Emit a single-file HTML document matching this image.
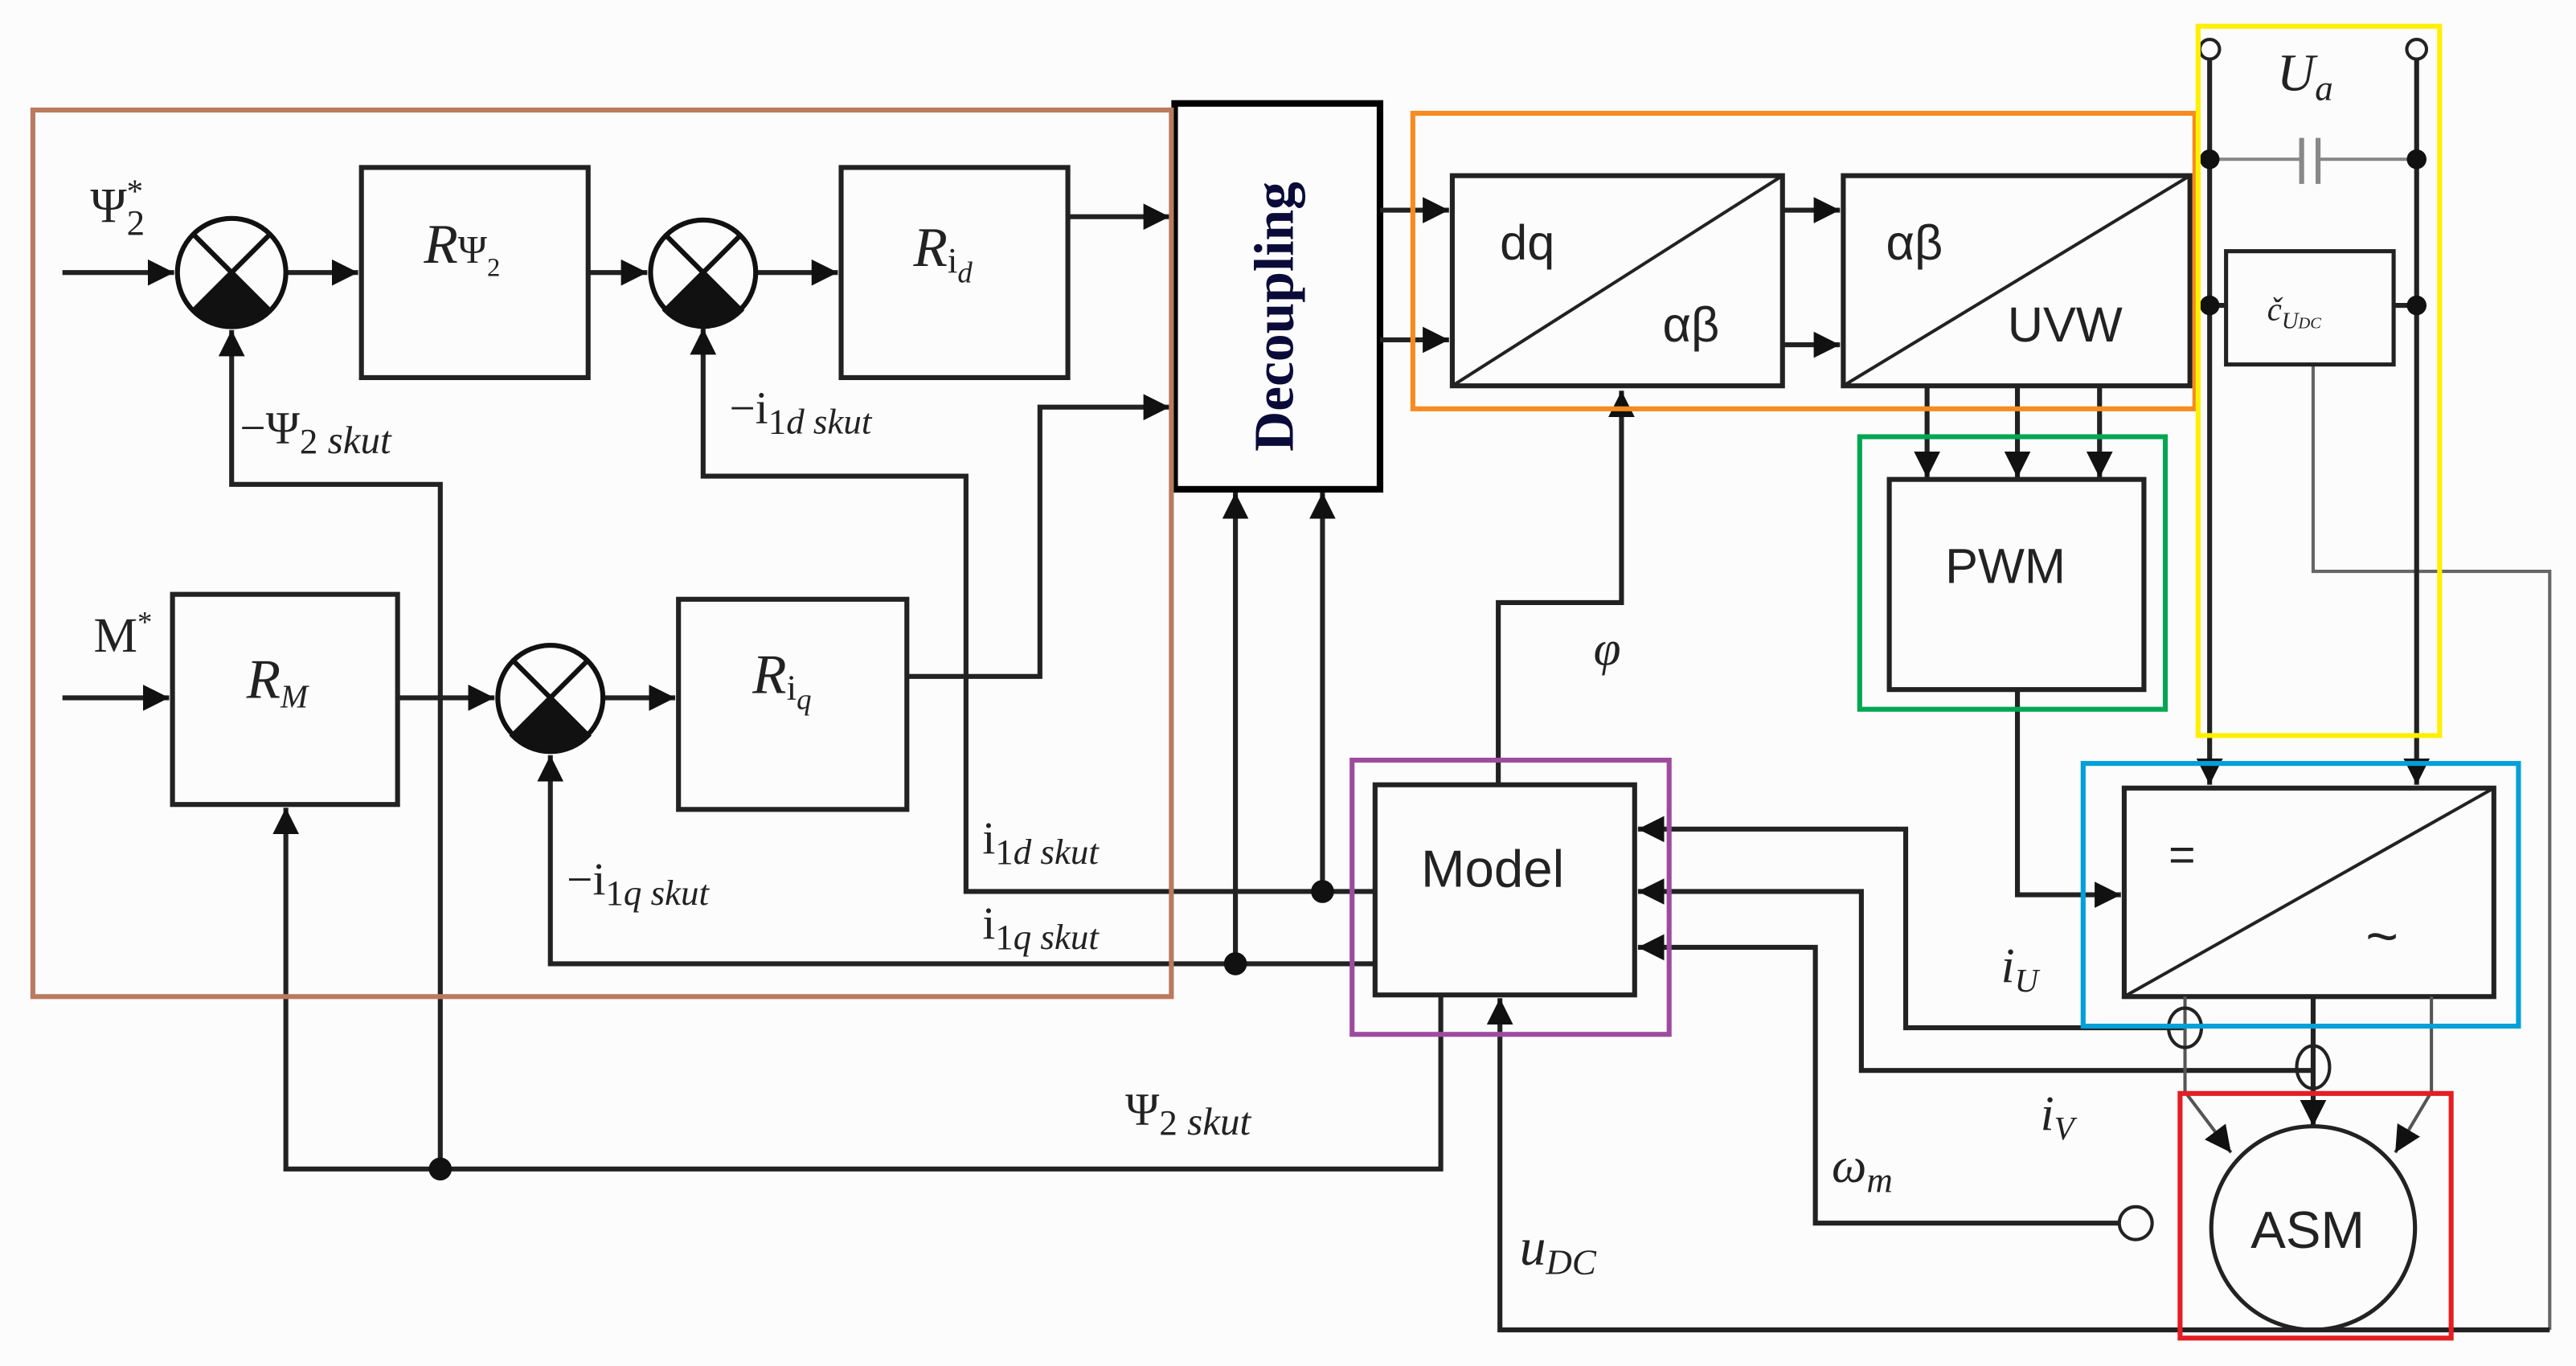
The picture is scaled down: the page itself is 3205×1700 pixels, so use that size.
<!DOCTYPE html>
<html><head><meta charset="utf-8"><style>
html,body{margin:0;padding:0;background:#fff;}
svg{display:block;}
.t{font-family:"Liberation Serif",serif;font-style:italic;fill:#222;}
.s{font-family:"Liberation Sans",sans-serif;fill:#222;}
</style></head><body>
<svg width="3205" height="1700" viewBox="0 0 1568 832" preserveAspectRatio="none" xmlns="http://www.w3.org/2000/svg">
<defs>
<marker id="b" viewBox="0 0 10 10" refX="10" refY="5" markerWidth="16" markerHeight="16" orient="auto" markerUnits="userSpaceOnUse"><path d="M0,0 L10,5 L0,10 Z" fill="#111"/></marker>
</defs>
<rect x="0" y="0" width="1568" height="832" fill="#fcfcfc"/>
<g fill="none" stroke="#222" stroke-width="3">
<line x1="38" y1="166" x2="106" y2="166" marker-end="url(#b)"/>
<line x1="174" y1="166" x2="218" y2="166" marker-end="url(#b)"/>
<rect x="220" y="102" width="138" height="128"/>
<line x1="358" y1="166" x2="394" y2="166" marker-end="url(#b)"/>
<line x1="460" y1="166" x2="510" y2="166" marker-end="url(#b)"/>
<rect x="512" y="102" width="138" height="128"/>
<line x1="650" y1="132" x2="712" y2="132" marker-end="url(#b)"/>
<polyline points="268,712 268,295 141,295 141,201" marker-end="url(#b)"/>
<polyline points="836,543 588,543 588,290 428,290 428,200" marker-end="url(#b)"/>
<line x1="38" y1="425" x2="103" y2="425" marker-end="url(#b)"/>
<rect x="105" y="362" width="137" height="128"/>
<line x1="242" y1="425" x2="301" y2="425" marker-end="url(#b)"/>
<line x1="368" y1="425" x2="411" y2="425" marker-end="url(#b)"/>
<rect x="413" y="365" width="139" height="128"/>
<polyline points="552,412 633,412 633,248 712,248" marker-end="url(#b)"/>
<polyline points="836,587 335,587 335,460" marker-end="url(#b)"/>
<polyline points="877,607 877,712 174,712 174,492" marker-end="url(#b)"/>
<line x1="752" y1="587" x2="752" y2="300" marker-end="url(#b)"/>
<line x1="805" y1="543" x2="805" y2="300" marker-end="url(#b)"/>
<rect x="715" y="63" width="125" height="235" stroke="#000" stroke-width="4"/>
<line x1="840" y1="128" x2="882" y2="128" marker-end="url(#b)"/>
<line x1="840" y1="207" x2="882" y2="207" marker-end="url(#b)"/>
<rect x="884" y="107" width="201" height="128"/>
<line x1="884" y1="235" x2="1085" y2="107" stroke-width="2"/>
<line x1="1085" y1="128" x2="1120" y2="128" marker-end="url(#b)"/>
<line x1="1085" y1="210" x2="1120" y2="210" marker-end="url(#b)"/>
<rect x="1122" y="107" width="211" height="128"/>
<line x1="1122" y1="235" x2="1333" y2="107" stroke-width="2"/>
<line x1="1173" y1="235" x2="1173" y2="291" marker-end="url(#b)"/>
<line x1="1228" y1="235" x2="1228" y2="291" marker-end="url(#b)"/>
<line x1="1278" y1="235" x2="1278" y2="291" marker-end="url(#b)"/>
<rect x="1150" y="292" width="155" height="128"/>
<polyline points="1228,420 1228,545 1291,545" marker-end="url(#b)"/>
<polyline points="912,478 912,367 987,367 987,238" marker-end="url(#b)"/>
<rect x="837" y="478" width="158" height="128"/>
<polyline points="1408,222 1408,348 1552,348 1552,810" stroke-width="2" stroke="#666"/>
<polyline points="1552,810 913,810 913,608" marker-end="url(#b)"/>
<polyline points="1330,626 1160,626 1160,505 997,505" marker-end="url(#b)"/>
<polyline points="1408,652 1133,652 1133,543 997,543" marker-end="url(#b)"/>
<polyline points="1290,745 1105,745 1105,577 997,577" marker-end="url(#b)"/>
<line x1="1345" y1="36" x2="1345" y2="478" marker-end="url(#b)"/>
<line x1="1471" y1="36" x2="1471" y2="478" marker-end="url(#b)"/>
<rect x="1355" y="153" width="102" height="69" stroke-width="2.5"/>
<line x1="1345" y1="186" x2="1355" y2="186"/>
<line x1="1457" y1="186" x2="1471" y2="186"/>
<g stroke="#888" stroke-width="2"><line x1="1345" y1="97" x2="1401" y2="97"/><line x1="1411" y1="97" x2="1471" y2="97"/>
<line x1="1401" y1="84" x2="1401" y2="112" stroke-width="3"/><line x1="1411" y1="84" x2="1411" y2="112" stroke-width="3"/></g>
<rect x="1293" y="480" width="225" height="127"/>
<line x1="1293" y1="607" x2="1518" y2="480" stroke-width="2"/>
<polyline points="1330,607 1330,665 1358,702" stroke-width="2" stroke="#555" marker-end="url(#b)"/>
<line x1="1408" y1="607" x2="1408" y2="686" marker-end="url(#b)"/>
<polyline points="1480,607 1480,665 1458,702" stroke-width="2" stroke="#555" marker-end="url(#b)"/>
<ellipse cx="1330" cy="626" rx="10" ry="12" stroke-width="2"/>
<ellipse cx="1408" cy="650" rx="10" ry="13" stroke-width="2"/>
<circle cx="1300" cy="745" r="10" stroke-width="2"/>
<circle cx="1408" cy="748" r="62" stroke-width="2.5"/>
<circle cx="1345" cy="30" r="6" stroke-width="2"/>
<circle cx="1471" cy="30" r="6" stroke-width="2"/>
</g>
<g stroke="#111" stroke-width="3" fill="none">
<g transform="translate(141,166)"><circle r="33"/><line x1="-23" y1="-23" x2="23" y2="23"/><line x1="23" y1="-23" x2="-23" y2="23"/><path d="M0,0 L-23,23 A33,33 0 0 0 23,23 Z" fill="#111"/></g>
<g transform="translate(428,166)"><circle r="32"/><line x1="-23" y1="-23" x2="23" y2="23"/><line x1="23" y1="-23" x2="-23" y2="23"/><path d="M0,0 L-23,23 A32,32 0 0 0 23,23 Z" fill="#111"/></g>
<g transform="translate(335,425)"><circle r="32"/><line x1="-23" y1="-23" x2="23" y2="23"/><line x1="23" y1="-23" x2="-23" y2="23"/><path d="M0,0 L-23,23 A32,32 0 0 0 23,23 Z" fill="#111"/></g>
</g>
<g fill="#111"><circle cx="268" cy="712" r="7"/><circle cx="752" cy="587" r="7"/><circle cx="805" cy="543" r="7"/>
<circle cx="1345" cy="97" r="6"/><circle cx="1471" cy="97" r="6"/><circle cx="1345" cy="186" r="6"/><circle cx="1471" cy="186" r="6"/></g>
<g fill="none" stroke-width="3">
<rect x="20" y="67" width="693" height="540" stroke="#b97a5e"/>
<rect x="860" y="69" width="476" height="180" stroke="#f68b1f"/>
<rect x="1132" y="266" width="186" height="166" stroke="#00a651"/>
<rect x="1338" y="16" width="147" height="432" stroke="#ffef00"/>
<rect x="823" y="463" width="193" height="167" stroke="#9e4b9e"/>
<rect x="1268" y="465" width="265" height="160" stroke="#00a0d8"/>
<rect x="1327" y="666" width="165" height="149" stroke="#e31e24"/>
</g>
<text x="55" y="135" class="t" style="font-style:normal" font-size="30">Ψ<tspan font-size="20" dy="-12">*</tspan><tspan font-size="22" dx="-10" dy="20">2</tspan></text>
<text x="258" y="160" class="t" font-size="34">R<tspan font-size="24" style="font-style:normal">Ψ</tspan><tspan font-size="16" dy="8" style="font-style:normal">2</tspan></text>
<text x="556" y="162" class="t" font-size="34">R<tspan font-size="22" style="font-style:normal" dy="4">i</tspan><tspan font-size="18" dy="6">d</tspan></text>
<text x="150" y="425" class="t" font-size="34">R<tspan font-size="20" dy="6">M</tspan></text>
<text x="458" y="422" class="t" font-size="34">R<tspan font-size="22" style="font-style:normal" dy="4">i</tspan><tspan font-size="18" dy="6">q</tspan></text>
<text x="57" y="397" class="t" style="font-style:normal" font-size="30">M<tspan font-size="18" dy="-12">*</tspan></text>
<text x="146" y="270" class="t" font-size="28"><tspan style="font-style:normal">−Ψ</tspan><tspan font-size="22" dy="6" style="font-style:normal">2</tspan><tspan font-size="24"> skut</tspan></text>
<text x="444" y="258" class="t" font-size="28"><tspan style="font-style:normal">−i</tspan><tspan font-size="22" dy="6"><tspan style="font-style:normal">1</tspan>d skut</tspan></text>
<text x="345" y="545" class="t" font-size="28"><tspan style="font-style:normal">−i</tspan><tspan font-size="22" dy="6"><tspan style="font-style:normal">1</tspan>q skut</tspan></text>
<text x="598" y="520" class="t" font-size="28"><tspan style="font-style:normal">i</tspan><tspan font-size="22" dy="6"><tspan style="font-style:normal">1</tspan>d skut</tspan></text>
<text x="598" y="572" class="t" font-size="28"><tspan style="font-style:normal">i</tspan><tspan font-size="22" dy="6"><tspan style="font-style:normal">1</tspan>q skut</tspan></text>
<text x="685" y="685" class="t" font-size="28"><tspan style="font-style:normal">Ψ</tspan><tspan font-size="22" dy="6" style="font-style:normal">2</tspan><tspan font-size="24"> skut</tspan></text>
<text x="0" y="0" transform="translate(787,275) rotate(-90)" font-family="Liberation Serif,serif" font-weight="bold" font-size="34" fill="#0b0b3a">Decoupling</text>
<text x="913" y="158" class="s" font-size="30">dq</text>
<text x="1012" y="208" class="s" font-size="30">αβ</text>
<text x="1148" y="158" class="s" font-size="30">αβ</text>
<text x="1222" y="208" class="s" font-size="30">UVW</text>
<text x="1184" y="355" class="s" font-size="30">PWM</text>
<text x="865" y="540" class="s" font-size="32">Model</text>
<text x="1370" y="760" class="s" font-size="32">ASM</text>
<text x="1320" y="530" class="s" font-size="28">=</text>
<text x="1440" y="582" class="s" font-size="34">~</text>
<text x="970" y="405" class="t" font-size="30">φ</text>
<text x="1386" y="55" class="t" font-size="32">U<tspan font-size="22" dy="6">a</tspan></text>
<text x="1380" y="195" class="t" font-size="20" fill="#666">č<tspan font-size="14" dy="5">U<tspan font-size="10">DC</tspan></tspan></text>
<text x="1218" y="598" class="t" font-size="30">i<tspan font-size="20" dy="6">U</tspan></text>
<text x="1242" y="688" class="t" font-size="30">i<tspan font-size="20" dy="6">V</tspan></text>
<text x="1115" y="720" class="t" font-size="30">ω<tspan font-size="22" dy="6">m</tspan></text>
<text x="925" y="770" class="t" font-size="32">u<tspan font-size="22" dy="6">DC</tspan></text>
</svg>
</body></html>
